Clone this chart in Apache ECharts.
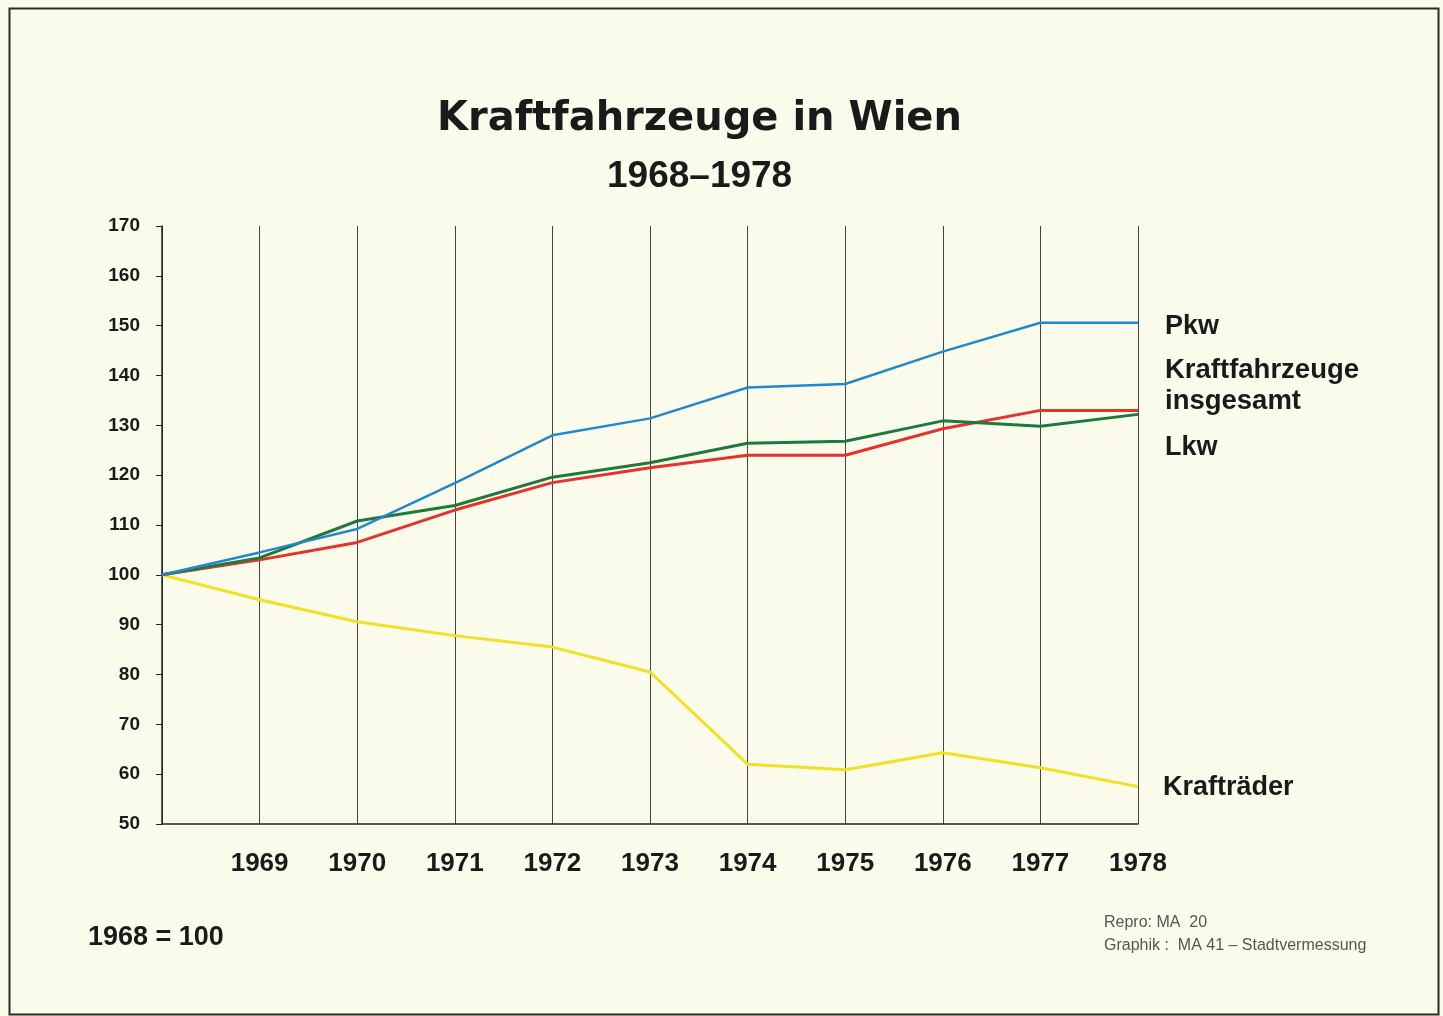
<!DOCTYPE html>
<html>
<head>
<meta charset="utf-8">
<script src="https://cdn.jsdelivr.net/npm/echarts@6/dist/echarts.min.js"></script>
<style>
html, body { margin: 0; padding: 0; background: #fbfbec; }
#chart { width: 1443px; height: 1016px; }
</style>
</head>
<body>
<div id="chart"></div>
<script>
var chart = echarts.init(document.getElementById('chart'));

// Daten: Index 1968 = 100
var years = [1968, 1969, 1970, 1971, 1972, 1973, 1974, 1975, 1976, 1977, 1978];
var pkw = [100, 104.5, 109.2, 118.4, 128, 131.4, 137.6, 138.3, 144.8, 150.6, 150.6];
var insgesamt = [100, 103, 106.5, 113, 118.5, 121.5, 124, 124, 129.3, 133, 133];
var lkw = [100, 103.4, 110.8, 113.9, 119.6, 122.5, 126.4, 126.8, 130.9, 129.8, 132.2];
var kraftraeder = [100, 95, 90.6, 87.8, 85.5, 80.5, 62, 60.9, 64.3, 61.3, 57.5];

function pairs(arr) {
    return arr.map(function (v, i) { return [years[i], v]; });
}

var font = 'Liberation Sans';

function label(text, x, y, size) {
    return {
        type: 'text', left: x, top: y,
        style: { text: text, font: 'bold ' + size + 'px "' + font + '"', fill: '#1a1a1a' }
    };
}

var option = {
    backgroundColor: '#fbfbec',
    animation: false,
    grid: { left: 162, right: 305, top: 226, bottom: 192 },
    xAxis: {
        type: 'value',
        min: 1968,
        max: 1978,
        interval: 1,
        axisLine: { show: true, lineStyle: { color: '#222', width: 1.5 } },
        axisTick: { show: false },
        axisLabel: {
            margin: 27,
            color: '#1a1a1a',
            fontFamily: font,
            fontWeight: 'bold',
            fontSize: 26,
            formatter: function (v) { return v === 1968 ? '' : String(v); }
        },
        splitLine: { show: true, lineStyle: { color: '#444', width: 1 } }
    },
    yAxis: {
        type: 'value',
        min: 50,
        max: 170,
        interval: 10,
        axisLine: { show: true, lineStyle: { color: '#222', width: 1.5 } },
        axisTick: { show: true, length: 6, lineStyle: { color: '#222' } },
        axisLabel: {
            margin: 22,
            color: '#1a1a1a',
            fontFamily: font,
            fontWeight: 'bold',
            fontSize: 19
        },
        splitLine: { show: false }
    },
    series: [
        {
            name: 'Krafträder', type: 'line', data: pairs(kraftraeder),
            showSymbol: false, lineStyle: { color: '#f2e024', width: 3 }
        },
        {
            name: 'Kraftfahrzeuge insgesamt', type: 'line', data: pairs(insgesamt),
            showSymbol: false, lineStyle: { color: '#e5322b', width: 3 }
        },
        {
            name: 'Lkw', type: 'line', data: pairs(lkw),
            showSymbol: false, lineStyle: { color: '#1d7a3c', width: 3 }
        },
        {
            name: 'Pkw', type: 'line', data: pairs(pkw),
            showSymbol: false, lineStyle: { color: '#2288cc', width: 2.5 }
        }
    ],
    graphic: [
        {
            type: 'rect', left: 7, top: 6, silent: true,
            shape: { width: 1429, height: 1006 },
            style: { fill: 'none', stroke: '#2a2a2a', lineWidth: 2 }
        },
        {
            type: 'text', left: 437, top: 100,
            style: { text: 'Kraftfahrzeuge in Wien', font: 'bold 40px "DejaVu Sans"', fill: '#1a1a1a' }
        },
        {
            type: 'text', left: 607, top: 158,
            style: { text: '1968–1978', font: 'bold 37px "' + font + '"', fill: '#1a1a1a' }
        },
        label('Pkw', 1165, 313, 27),
        label('Kraftfahrzeuge', 1165, 356, 27.5),
        label('insgesamt', 1165, 387, 27.5),
        label('Lkw', 1165, 434, 27),
        label('Krafträder', 1163, 774, 27),
        label('1968 = 100', 88, 924, 27),
        {
            type: 'text', left: 1104, top: 915,
            style: { text: 'Repro: MA  20', font: '16px "' + font + '"', fill: '#555' }
        },
        {
            type: 'text', left: 1104, top: 938,
            style: { text: 'Graphik :  MA 41 – Stadtvermessung', font: '16px "' + font + '"', fill: '#555' }
        }
    ]
};
chart.setOption(option);
</script>
</body>
</html>
